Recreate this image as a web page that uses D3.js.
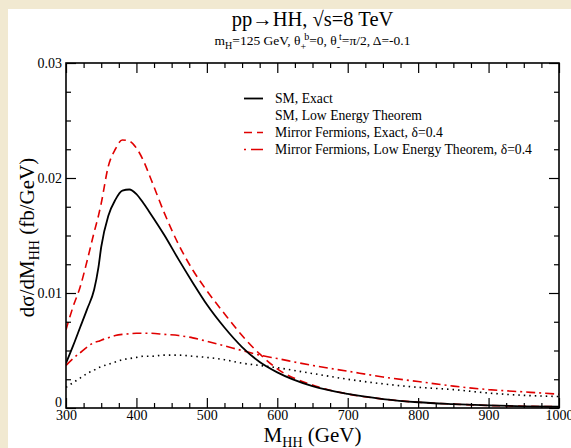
<!DOCTYPE html>
<html><head><meta charset="utf-8">
<script src="https://cdn.jsdelivr.net/npm/d3@7"></script>
<style>
html,body{margin:0;padding:0;background:#fff;}
svg text{font-family:"Liberation Serif","Times New Roman",Times,serif;fill:#000;}
</style></head>
<body>
<svg id="c" width="571" height="448"></svg>
<script>
const mass = [300,310,320,330,340,346,350,360,370,380,390,400,410,420,440,460,480,500,525,550,575,600,650,700,750,800,850,900,950,1000];
const smExact = [0.0039,0.0054,0.0070,0.0086,0.0103,0.0122,0.0140,0.0167,0.0181,0.0189,0.0190,0.0186,0.0178,0.0169,0.0150,0.0129,0.0109,0.0090,0.0070,0.0053,0.0040,0.0031,0.0019,0.00122,0.00078,0.00050,0.00034,0.00022,0.00015,0.00011];
const smLET = [0.0018,0.0022,0.0026,0.0030,0.0033,0.0035,0.0036,0.0038,0.0040,0.0042,0.0043,0.0044,0.0045,0.0045,0.0046,0.0046,0.0045,0.0044,0.0042,0.0039,0.0037,0.0035,0.0030,0.0025,0.0021,0.0018,0.0016,0.0013,0.0011,0.0010];
const mfExact = [0.0068,0.0088,0.0105,0.0128,0.0153,0.0167,0.0178,0.0210,0.0225,0.0233,0.0232,0.0226,0.0215,0.0200,0.0169,0.0142,0.0120,0.0102,0.0082,0.0063,0.0047,0.0034,0.0020,0.00122,0.00078,0.00050,0.00034,0.00022,0.00015,0.00011];
const mfLET = [0.0037,0.0043,0.0048,0.0053,0.0057,0.0058,0.0059,0.0061,0.0063,0.0064,0.00645,0.0065,0.0065,0.0065,0.0064,0.0063,0.0061,0.0058,0.0054,0.0050,0.0046,0.0043,0.0037,0.0032,0.0027,0.0023,0.0019,0.0016,0.0014,0.0012];
const xTicks = [300,400,500,600,700,800,900,1000];
const yTicks = [0,0.01,0.02,0.03];
const legendLabels = ["SM, Exact","SM, Low Energy Theorem","Mirror Fermions, Exact, δ=0.4","Mirror Fermions, Low Energy Theorem, δ=0.4"];

const svg = d3.select("#c");
svg.append("rect").attr("x",0).attr("y",0).attr("width",571).attr("height",448).attr("fill","#f1e9d1");
svg.append("rect").attr("x",8).attr("y",9).attr("width",563).attr("height",439).attr("fill","#fff");

const L=66, R=559, T=63, B=408;
const x = d3.scaleLinear().domain([300,1000]).range([L,R]);
const y = d3.scaleLinear().domain([0,0.03]).range([B,T]);

const series = [
  {vals: smExact, color:"#000", dash:null, w:1.8},
  {vals: smLET, color:"#000", dash:"1.5,4", w:1.6},
  {vals: mfExact, color:"#e00000", dash:"8,5", w:1.6},
  {vals: mfLET, color:"#e00000", dash:"9,4,2,4", w:1.6}
];
const line = d3.line().x(d=>x(d[0])).y(d=>y(d[1])).curve(d3.curveMonotoneX);
const g = svg.append("g");
g.append("clipPath").attr("id","clip").append("rect").attr("x",L).attr("y",T).attr("width",R-L).attr("height",B-T);
[1,3,2,0].forEach(i=>{
  const s = series[i];
  g.append("path").attr("clip-path","url(#clip)")
    .datum(mass.map((m,k)=>[m,s.vals[k]]))
    .attr("d",line).attr("fill","none").attr("stroke",s.color)
    .attr("stroke-width",s.w).attr("stroke-dasharray",s.dash);
});

function addAxis(axis, tx, ty){
  const a = svg.append("g").attr("transform",`translate(${tx},${ty})`).call(axis);
  a.attr("font-family",null);
  a.select(".domain").remove();
  a.selectAll("line").attr("stroke","#000").attr("stroke-width",1.2);
  return a;
}
const xMinor = d3.range(300,1001,25).filter(v=>v%100!==0);
const yMinor = d3.range(0,0.0301,0.0025).filter(v=>Math.abs(v/0.01-Math.round(v/0.01))>1e-6);
let ax = addAxis(d3.axisBottom(x).tickValues(xTicks).tickSize(-10).tickPadding(2).tickFormat(d3.format("d")),0,B);
ax.selectAll("text").attr("font-size","14px");
addAxis(d3.axisBottom(x).tickValues(xMinor).tickSize(-5).tickFormat(""),0,B);
addAxis(d3.axisTop(x).tickValues(xTicks).tickSize(-10).tickFormat(""),0,T);
addAxis(d3.axisTop(x).tickValues(xMinor).tickSize(-5).tickFormat(""),0,T);
let ay = addAxis(d3.axisLeft(y).tickValues(yTicks).tickSize(-10).tickPadding(4).tickFormat(d=>d===0?"0":d3.format(".2f")(d)),L,0);
ay.selectAll("text").attr("font-size","14px");
addAxis(d3.axisLeft(y).tickValues(yMinor).tickSize(-5).tickFormat(""),L,0);
addAxis(d3.axisRight(y).tickValues(yTicks).tickSize(-10).tickFormat(""),R,0);
addAxis(d3.axisRight(y).tickValues(yMinor).tickSize(-5).tickFormat(""),R,0);
ay.selectAll(".tick").filter(d=>d===0).select("text").attr("dy","-0.1em");

svg.append("rect").attr("x",L).attr("y",T).attr("width",R-L).attr("height",B-T)
  .attr("fill","none").attr("stroke","#000").attr("stroke-width",1.6);

const cx = (L+R)/2;
svg.append("text").attr("x",cx).attr("y",26).attr("text-anchor","middle").attr("font-size","20.5px")
  .text("pp→HH, √s=8 TeV");
const st = svg.append("text").attr("x",cx).attr("y",45).attr("text-anchor","middle").attr("font-size","13.5px");
st.append("tspan").text("m");
st.append("tspan").attr("font-size","10px").attr("dy",4).text("H");
st.append("tspan").attr("dy",-4).text("=125 GeV, θ");
st.append("tspan").attr("font-size","10px").attr("dy",5).text("+");
st.append("tspan").attr("font-size","10px").attr("dy",-10).attr("dx",-2).text("b");
st.append("tspan").attr("dy",5).text("=0, θ");
st.append("tspan").attr("font-size","10px").attr("dy",5).text("-");
st.append("tspan").attr("font-size","10px").attr("dy",-10).attr("dx",-1).text("t");
st.append("tspan").attr("dy",5).text("=π/2, Δ=-0.1");

const xl = svg.append("text").attr("x",cx).attr("y",442).attr("text-anchor","middle").attr("font-size","21px");
xl.append("tspan").text("M");
xl.append("tspan").attr("font-size","14px").attr("dy",5).text("HH");
xl.append("tspan").attr("dy",-5).text(" (GeV)");

const yl = svg.append("text").attr("transform",`translate(34,${(T+B)/2+2}) rotate(-90)`).attr("text-anchor","middle").attr("font-size","21px");
yl.append("tspan").text("dσ/dM");
yl.append("tspan").attr("font-size","14px").attr("dy",5).text("HH");
yl.append("tspan").attr("dy",-5).text(" (fb/GeV)");

const lg = svg.append("g");
legendLabels.forEach((lab,i)=>{
  const yy = 98.5 + i*17;
  const s = series[i];
  if(i!==1){
    lg.append("line").attr("x1",244).attr("x2",263).attr("y1",yy).attr("y2",yy)
      .attr("stroke",s.color).attr("stroke-width",s.w).attr("stroke-dasharray", i===3 ? "2,5,12,0" : s.dash);
  }
  lg.append("text").attr("x",275).attr("y",yy+4.5).attr("font-size","13.7px").text(lab);
});
</script>
</body></html>
